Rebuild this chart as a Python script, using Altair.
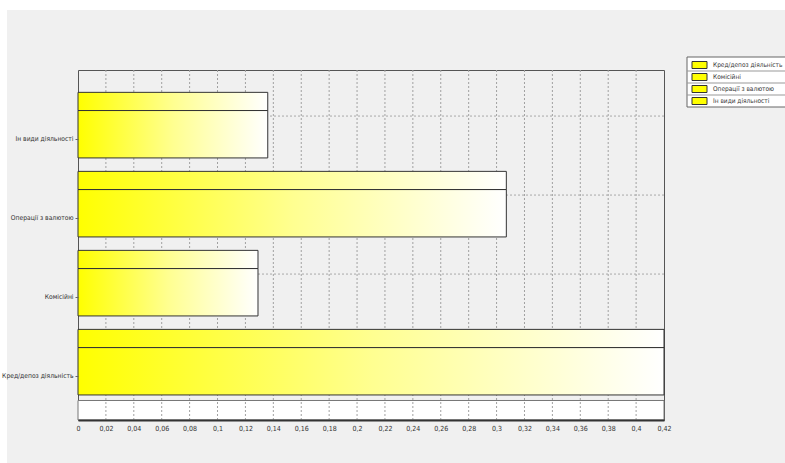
import altair as alt
import pandas as pd

# ---- data ----
categories = ["Кред/депоз діяльність", "Комісійні", "Операції з валютою", "Ін види діяльності"]
values = [0.42, 0.129, 0.307, 0.136]
x_ticks = [0, 0.02, 0.04, 0.06, 0.08, 0.1, 0.12, 0.14, 0.16, 0.18, 0.2,
           0.22, 0.24, 0.26, 0.28, 0.3, 0.32, 0.34, 0.36, 0.38, 0.4, 0.42]

FONT = "DejaVu Sans Condensed, Liberation Sans Narrow, sans-serif"

df = pd.DataFrame({"cat": categories, "val": values, "idx": list(range(len(categories)))})
ticks_df = pd.DataFrame({"t": x_ticks[1:-1]})
legend_df = pd.DataFrame({"cat": categories, "k": list(range(len(categories)))})

xscale = alt.Scale(domain=[0, 0.42], nice=False, zero=False)
yscale = alt.Scale(domain=[-0.557, 3.873], nice=False, zero=False)

grad = alt.LinearGradient(
    gradient="linear",
    stops=[alt.GradientStop(color="#ffff00", offset=0),
           alt.GradientStop(color="#ffff90", offset=0.5),
           alt.GradientStop(color="#ffffff", offset=1)],
    x1=0, x2=1, y1=0, y2=0,
)

label_expr = "[" + ",".join("'" + c + "'" for c in categories) + "][datum.value]"

xaxis = alt.Axis(values=x_ticks, title=None, ticks=False, grid=False,
                 labelExpr="replace(format(datum.value, '.2~f'), '.', ',')",
                 labelFont=FONT, labelFontSize=7, labelColor="#333",
                 labelPadding=4, labelFlush=False, labelOverlap=False,
                 domain=True, domainColor="#333", domainWidth=2, zindex=1)
yaxis = alt.Axis(values=list(range(len(categories))), title=None, grid=False,
                 labelExpr=label_expr, labelFont=FONT, labelFontSize=6.7,
                 labelColor="#333", tickSize=3, tickColor="#666",
                 labelPadding=2, domain=False, zindex=1)

one = alt.Data(values=[{}])

# white margins of the window
white_top = alt.Chart(one).mark_rect(fill="white").encode(
    x=alt.value(-78), x2=alt.value(720), y=alt.value(-70), y2=alt.value(-60))
white_left = alt.Chart(one).mark_rect(fill="white").encode(
    x=alt.value(-78), x2=alt.value(-71), y=alt.value(-70), y2=alt.value(400))

# floor of the 3D plot
floor = alt.Chart(one).mark_rect(fill="white", stroke="#777", strokeWidth=1).transform_calculate(
    x0="0", x1="0.42", y0="-0.31", y1="-0.557"
).encode(
    x=alt.X("x0:Q", scale=xscale, axis=xaxis), x2="x1:Q",
    y=alt.Y("y0:Q", scale=yscale, axis=yaxis), y2="y1:Q",
)

# vertical dotted grid
vgrid = alt.Chart(ticks_df).mark_rule(color="#a0a0a0", strokeDash=[2, 2], strokeWidth=1).encode(
    x=alt.X("t:Q", scale=xscale, axis=xaxis),
)

# horizontal dashed back-wall grid
hgrid = alt.Chart(df).mark_rule(color="#a8a8a8", strokeDash=[2, 2], strokeWidth=1).transform_calculate(
    gy="datum.idx + 0.29"
).encode(
    y=alt.Y("gy:Q", scale=yscale, axis=yaxis),
)

# bar front faces
front = alt.Chart(df).mark_rect(fill=grad, stroke="#333", strokeWidth=1).transform_calculate(
    x0="0", y0="datum.idx - 0.24", y1="datum.idx + 0.36"
).encode(
    x=alt.X("x0:Q", scale=xscale, axis=xaxis), x2="val:Q",
    y=alt.Y("y0:Q", scale=yscale, axis=yaxis), y2="y1:Q",
)

# bar top faces
top = alt.Chart(df).mark_rect(fill=grad, stroke="#333", strokeWidth=1).transform_calculate(
    x0="0", y0="datum.idx + 0.36", y1="datum.idx + 0.59"
).encode(
    x=alt.X("x0:Q", scale=xscale, axis=xaxis), x2="val:Q",
    y=alt.Y("y0:Q", scale=yscale, axis=yaxis), y2="y1:Q",
)

# legend (drawn manually, top right, partly cut by the window edge)
leg_box = alt.Chart(one).mark_rect(fill="white", stroke="#666", strokeWidth=1).encode(
    x=alt.value(609), x2=alt.value(760), y=alt.value(-13), y2=alt.value(37))
leg_sep = alt.Chart(legend_df).transform_filter("datum.k > 0").transform_calculate(
    py="-11 + 12 * datum.k"
).mark_rule(color="#999", strokeWidth=1).encode(
    x=alt.value(609), x2=alt.value(760), y=alt.Y("py:Q", scale=None))
leg_sw = alt.Chart(legend_df).transform_calculate(
    p0="-8.5 + 12 * datum.k", p1="-1.5 + 12 * datum.k"
).mark_rect(fill="#ffff00", stroke="#333", strokeWidth=1).encode(
    x=alt.value(614), x2=alt.value(629), y=alt.Y("p0:Q", scale=None), y2="p1:Q")
leg_tx = alt.Chart(legend_df).transform_calculate(
    py="-5 + 12 * datum.k"
).mark_text(align="left", baseline="middle", font=FONT, fontSize=6.5, color="#333").encode(
    x=alt.value(635), y=alt.Y("py:Q", scale=None), text="cat:N")

chart = alt.layer(
    white_top, white_left, floor, vgrid, hgrid, front, top,
    leg_box, leg_sep, leg_sw, leg_tx,
).properties(
    width=586, height=350,
    autosize=alt.AutoSizeParams(type="none"),
    padding={"left": 78, "top": 70, "right": 121, "bottom": 43},
    background="#f0f0f0",
).configure_view(
    stroke="#555", strokeWidth=1, fill="#f0f0f0",
)

chart.save("out.html", embed_options={"renderer": "svg", "actions": False})
